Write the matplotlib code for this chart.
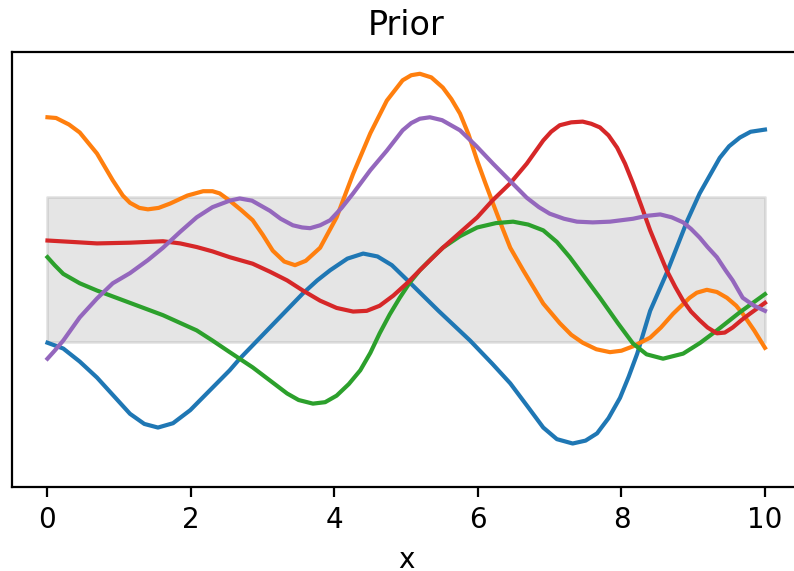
import numpy as np
import matplotlib
matplotlib.use('Agg')
from matplotlib import pyplot as plt

# MUESTRAS DEL PRIOR
x_blue = [0, 0.22, 0.45, 0.69, 0.92, 1.15, 1.35, 1.54, 1.75, 1.99, 2.25, 2.54, 2.68, 3.10, 3.56,
          3.76, 3.94, 4.18, 4.40, 4.60, 4.80, 5.05, 5.45, 5.89, 6.20, 6.45, 6.70, 6.91, 7.10, 7.32,
          7.50, 7.66, 7.82, 7.98, 8.10, 8.22, 8.40, 8.63, 8.92, 9.09, 9.37, 9.50, 9.65, 9.80, 10.0]
y_blue = [-1.01, -1.09, -1.27, -1.49, -1.74, -1.99, -2.13, -2.18, -2.12, -1.94, -1.68, -1.39, -1.23, -0.80, -0.33,
          -0.15, -0.01, 0.15, 0.22, 0.18, 0.06, -0.18, -0.57, -0.98, -1.30, -1.57, -1.90, -2.18, -2.34, -2.40,
          -2.36, -2.26, -2.05, -1.77, -1.48, -1.16, -0.57, -0.05, 0.68, 1.05, 1.54, 1.70, 1.82, 1.90, 1.93]

x_orange = [0, 0.12, 0.30, 0.45, 0.69, 0.91, 1.05, 1.15, 1.28, 1.40, 1.55, 1.71, 1.95, 2.17, 2.30,
            2.40, 2.54, 2.70, 2.86, 3.00, 3.14, 3.30, 3.45, 3.60, 3.80, 4.03, 4.26, 4.50, 4.73, 4.95,
            5.07, 5.19, 5.35, 5.51, 5.63, 5.75, 5.87, 5.99, 6.10, 6.21, 6.33, 6.45, 6.63, 6.91, 7.14,
            7.30, 7.46, 7.65, 7.84, 8.00, 8.16, 8.40, 8.55, 8.72, 8.95, 9.05, 9.19, 9.33, 9.47, 9.60,
            9.69, 9.85, 10.0]
y_orange = [2.10, 2.09, 2.00, 1.89, 1.60, 1.23, 1.02, 0.92, 0.85, 0.83, 0.85, 0.91, 1.02, 1.08, 1.08,
            1.05, 0.95, 0.82, 0.68, 0.48, 0.26, 0.11, 0.06, 0.12, 0.30, 0.72, 1.32, 1.88, 2.33, 2.61,
            2.68, 2.70, 2.65, 2.51, 2.35, 2.15, 1.86, 1.50, 1.20, 0.91, 0.60, 0.30, -0.01, -0.47, -0.74,
            -0.90, -1.01, -1.10, -1.14, -1.12, -1.06, -0.94, -0.80, -0.61, -0.39, -0.32, -0.28, -0.31, -0.39, -0.50,
            -0.61, -0.84, -1.08]

x_green = [0, 0.10, 0.22, 0.45, 0.69, 1.15, 1.61, 2.08, 2.30, 2.54, 2.86, 3.10, 3.34, 3.50, 3.70,
           3.87, 4.03, 4.20, 4.36, 4.50, 4.63, 4.77, 4.91, 5.05, 5.19, 5.35, 5.51, 5.75, 5.99, 6.25,
           6.49, 6.70, 6.91, 7.10, 7.28, 7.52, 7.70, 7.95, 8.16, 8.35, 8.58, 8.86, 9.10, 9.33, 9.65,
           10.0]
y_green = [0.17, 0.06, -0.06, -0.19, -0.29, -0.46, -0.63, -0.84, -0.98, -1.14, -1.35, -1.53, -1.71, -1.80, -1.85,
           -1.83, -1.74, -1.58, -1.39, -1.15, -0.88, -0.62, -0.39, -0.18, -0.01, 0.15, 0.30, 0.46, 0.58, 0.64,
           0.66, 0.62, 0.54, 0.38, 0.17, -0.15, -0.39, -0.74, -1.02, -1.17, -1.23, -1.16, -1.01, -0.84, -0.59,
           -0.34]

x_red = [0, 0.35, 0.69, 1.15, 1.61, 1.85, 2.08, 2.30, 2.54, 2.86, 3.10, 3.34, 3.56, 3.80, 4.03,
         4.26, 4.45, 4.63, 4.82, 5.01, 5.19, 5.51, 5.99, 6.20, 6.45, 6.68, 6.91, 7.02, 7.14, 7.30,
         7.46, 7.58, 7.70, 7.82, 7.94, 8.05, 8.16, 8.28, 8.40, 8.52, 8.63, 8.75, 8.86, 8.97, 9.09,
         9.20, 9.33, 9.44, 9.55, 9.67, 9.79, 10.0]
y_red = [0.40, 0.38, 0.36, 0.37, 0.39, 0.36, 0.31, 0.25, 0.17, 0.08, -0.03, -0.15, -0.29, -0.43, -0.53,
         -0.58, -0.57, -0.50, -0.36, -0.19, -0.01, 0.30, 0.72, 0.95, 1.19, 1.46, 1.78, 1.90, 1.99, 2.03,
         2.04, 2.01, 1.96, 1.85, 1.68, 1.46, 1.19, 0.87, 0.54, 0.25, -0.01, -0.24, -0.43, -0.58, -0.70,
         -0.80, -0.88, -0.87, -0.80, -0.70, -0.61, -0.46]

x_purple = [0, 0.10, 0.22, 0.45, 0.69, 0.91, 1.15, 1.40, 1.61, 1.85, 2.08, 2.30, 2.54, 2.68, 2.85,
            3.10, 3.25, 3.42, 3.55, 3.66, 3.80, 3.94, 4.10, 4.26, 4.50, 4.73, 4.95, 5.07, 5.19, 5.33,
            5.50, 5.75, 5.98, 6.21, 6.45, 6.68, 6.85, 7.00, 7.20, 7.38, 7.60, 7.84, 8.16, 8.35, 8.54,
            8.70, 8.86, 8.97, 9.09, 9.20, 9.33, 9.45, 9.55, 9.69, 9.85, 10.0]
y_purple = [-1.23, -1.12, -0.98, -0.66, -0.40, -0.19, -0.05, 0.13, 0.30, 0.52, 0.72, 0.86, 0.95, 0.98, 0.95,
            0.81, 0.70, 0.61, 0.58, 0.57, 0.61, 0.68, 0.85, 1.05, 1.37, 1.64, 1.92, 2.02, 2.08, 2.10,
            2.06, 1.92, 1.70, 1.46, 1.22, 0.99, 0.86, 0.77, 0.70, 0.66, 0.65, 0.66, 0.70, 0.74, 0.76,
            0.72, 0.65, 0.56, 0.44, 0.31, 0.17, -0.01, -0.15, -0.39, -0.50, -0.57]

# banda +- 1 desviacion
band_x = [0, 10]
band_lo = [-1, -1]
band_hi = [1, 1]

#GRAFICAMOS
fig = plt.figure(figsize=(3.97, 2.855), dpi=200)
ax = fig.add_axes([0.0146, 0.1471, 0.994, 0.7618])

ax.fill_between(band_x, band_lo, band_hi, color='gray', alpha=0.2)
ax.plot(x_blue, y_blue, color='C0', lw=1.5)
ax.plot(x_orange, y_orange, color='C1', lw=1.5)
ax.plot(x_green, y_green, color='C2', lw=1.5)
ax.plot(x_red, y_red, color='C3', lw=1.5)
ax.plot(x_purple, y_purple, color='C4', lw=1.5)

ax.set_xlim(-0.5, 10.5)
ax.set_ylim(-3, 3)
ax.set_yticks([])
ax.set_xticks([0, 2, 4, 6, 8, 10])
ax.set_title('Prior')
ax.set_xlabel('x')

fig.savefig('out.png', dpi=200)
